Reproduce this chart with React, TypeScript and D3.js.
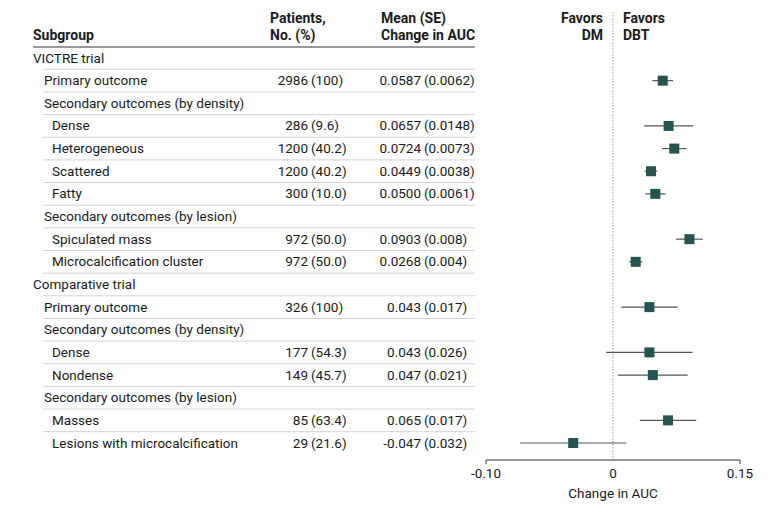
import React from 'react'
import * as d3 from 'd3'

// rows of the forest plot, top to bottom
const labels = [
  'VICTRE trial', 'Primary outcome', 'Secondary outcomes (by density)', 'Dense', 'Heterogeneous',
  'Scattered', 'Fatty', 'Secondary outcomes (by lesion)', 'Spiculated mass', 'Microcalcification cluster',
  'Comparative trial', 'Primary outcome', 'Secondary outcomes (by density)', 'Dense', 'Nondense',
  'Secondary outcomes (by lesion)', 'Masses', 'Lesions with microcalcification',
]
const levels = [0, 1, 1, 2, 2, 2, 2, 1, 2, 2, 0, 1, 1, 2, 2, 1, 2, 2]
const patients = [
  '', '2986 (100)', '', '286 (9.6)', '1200 (40.2)', '1200 (40.2)', '300 (10.0)', '', '972 (50.0)', '972 (50.0)',
  '', '326 (100)', '', '177 (54.3)', '149 (45.7)', '', '85 (63.4)', '29 (21.6)',
]
const meanSE = [
  '', '0.0587 (0.0062)', '', '0.0657 (0.0148)', '0.0724 (0.0073)', '0.0449 (0.0038)', '0.0500 (0.0061)', '',
  '0.0903 (0.008)', '0.0268 (0.004)', '', '0.043 (0.017)', '', '0.043 (0.026)', '0.047 (0.021)', '',
  '0.065 (0.017)', '-0.047 (0.032)',
]
const estimate = [null, 0.0587, null, 0.0657, 0.0724, 0.0449, 0.05, null, 0.0903, 0.0268,
  null, 0.043, null, 0.043, 0.047, null, 0.065, -0.047]
const ciLow = [null, 0.0465, null, 0.0367, 0.0581, 0.0375, 0.038, null, 0.0746, 0.019,
  null, 0.0097, null, -0.008, 0.0058, null, 0.0317, -0.1097]
const ciHigh = [null, 0.0709, null, 0.0947, 0.0867, 0.0523, 0.062, null, 0.106, 0.0346,
  null, 0.0763, null, 0.094, 0.0882, null, 0.0983, 0.0157]

const tickValues = [-0.15, 0, 0.15]
const tickLabels = ['-0.10', '0', '0.15']

const font = 'Roboto, "Noto Sans", sans-serif'
const W = 780
const H = 512

const App = () => {
  const x = d3.scaleLinear().domain([-0.15, 0.15]).range([486, 740])
  const y = d3.scalePoint<number>().domain(d3.range(labels.length)).range([58, 443])
  const step = y.step()
  const indent = [33, 44, 52]
  const patParen = 311
  const meanParen = 424
  const axisY = 460
  const sq = 10

  // split "a (b)" so the opening parenthesis lines up
  const split = (s: string) => {
    const i = s.indexOf(' (')
    return [s.slice(0, i), s.slice(i + 1)]
  }

  return (
    <svg width={W} height={H} style={{ position: 'absolute', left: 0, top: 0, background: '#fff' }}
      fontFamily={font} fontSize={13.5} fill="#1a1a1a">
      {/* header */}
      <g fontWeight="bold" fontSize={14}>
        <text x={33} y={40}>Subgroup</text>
        <text x={270} y={23}>Patients,</text>
        <text x={270} y={40}>No. (%)</text>
        <text x={381} y={23}>Mean (SE)</text>
        <text x={381} y={40}>Change in AUC</text>
        <text x={x(0) - 10} y={23} textAnchor="end">Favors</text>
        <text x={x(0) - 10} y={40} textAnchor="end">DM</text>
        <text x={x(0) + 10} y={23}>Favors</text>
        <text x={x(0) + 10} y={40}>DBT</text>
      </g>
      <line x1={33} x2={475} y1={47} y2={47} stroke="#333" strokeWidth={1} />

      {/* table rows */}
      {labels.map((lab, i) => {
        const yy = y(i)!
        const p = patients[i] ? split(patients[i]) : null
        const m = meanSE[i] ? split(meanSE[i]) : null
        return (
          <g key={i}>
            {i < labels.length - 1 && (
              <line x1={43} x2={475} y1={yy + step / 2} y2={yy + step / 2} stroke="#d4d4d4" strokeWidth={1} />
            )}
            <text x={indent[levels[i]]} y={yy + 4.5}>{lab}</text>
            {p && <text x={patParen - 3} y={yy + 4.5} textAnchor="end">{p[0]}</text>}
            {p && <text x={patParen} y={yy + 4.5}>{p[1]}</text>}
            {m && <text x={meanParen - 3} y={yy + 4.5} textAnchor="end">{m[0]}</text>}
            {m && <text x={meanParen} y={yy + 4.5}>{m[1]}</text>}
          </g>
        )
      })}

      {/* zero reference */}
      <line x1={x(0)} x2={x(0)} y1={12} y2={axisY} stroke="#999" strokeWidth={1} strokeDasharray="1.5,1.5" />

      {/* estimates */}
      {estimate.map((e, i) => {
        if (e === null) return null
        const yy = y(i)!
        return (
          <g key={'m' + i}>
            <line x1={x(ciLow[i]!)} x2={x(ciHigh[i]!)} y1={yy} y2={yy} stroke="#555" strokeWidth={1.2} />
            <rect x={x(e) - sq / 2} y={yy - sq / 2} width={sq} height={sq} fill="#26544f" />
          </g>
        )
      })}

      {/* axis */}
      <line x1={x(-0.15)} x2={x(0.15)} y1={axisY} y2={axisY} stroke="#333" strokeWidth={1} />
      {tickValues.map((t, i) => (
        <g key={'t' + i}>
          {t !== 0 && <line x1={x(t)} x2={x(t)} y1={axisY} y2={axisY + 4} stroke="#333" strokeWidth={1} />}
          <text x={x(t)} y={axisY + 18} textAnchor="middle">{tickLabels[i]}</text>
        </g>
      ))}
      <text x={x(0)} y={498} textAnchor="middle">Change in AUC</text>
    </svg>
  )
}

export default App
